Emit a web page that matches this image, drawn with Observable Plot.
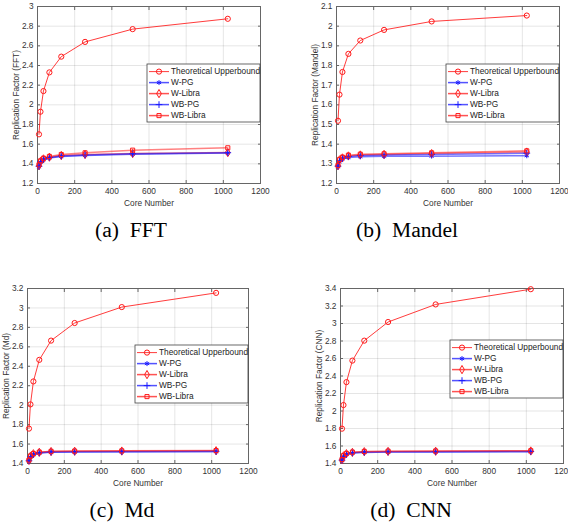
<!DOCTYPE html>
<html><head><meta charset="utf-8">
<script src="https://cdn.jsdelivr.net/npm/d3@7"></script>
<script src="https://cdn.jsdelivr.net/npm/@observablehq/plot@0.6"></script>
<style>
html,body{margin:0;padding:0;background:#fff;}
#root{position:relative;width:568px;height:527px;overflow:hidden;font-family:"Liberation Sans",Arial,sans-serif;}
.panel{position:absolute;}
.cap{position:absolute;font-family:"Liberation Serif","Times New Roman",serif;font-size:21.6px;line-height:21.6px;color:#000;white-space:pre;transform:translateX(-50%);}
</style></head><body><div id="root"></div>
<script>
// ---------- data ----------
const cores = [8, 16, 32, 64, 128, 256, 512, 1024];
const seriesNames = ["Theoretical Upperbound", "W-PG", "W-Libra", "WB-PG", "WB-Libra"];
const xTicks = [0, 200, 400, 600, 800, 1000, 1200];

const fftTheo    = [1.70, 1.93, 2.14, 2.33, 2.49, 2.64, 2.77, 2.875];
const fftWPG     = [1.370, 1.415, 1.442, 1.460, 1.475, 1.485, 1.497, 1.510];
const fftWLibra  = [1.380, 1.425, 1.450, 1.468, 1.485, 1.495, 1.505, 1.515];
const fftWBPG    = [1.375, 1.420, 1.447, 1.465, 1.480, 1.490, 1.502, 1.513];
const fftWBLibra = [1.390, 1.430, 1.457, 1.475, 1.495, 1.512, 1.539, 1.563];
const fftTicks   = [1.2, 1.4, 1.6, 1.8, 2, 2.2, 2.4, 2.6, 2.8, 3];

const mandelTheo    = [1.519, 1.652, 1.767, 1.859, 1.927, 1.981, 2.024, 2.054];
const mandelWPG     = [1.285, 1.310, 1.325, 1.332, 1.336, 1.338, 1.339, 1.341];
const mandelWLibra  = [1.290, 1.320, 1.330, 1.340, 1.345, 1.348, 1.352, 1.360];
const mandelWBPG    = [1.288, 1.315, 1.328, 1.337, 1.342, 1.345, 1.348, 1.354];
const mandelWBLibra = [1.292, 1.322, 1.334, 1.344, 1.349, 1.351, 1.356, 1.366];
const mandelTicks   = [1.2, 1.3, 1.4, 1.5, 1.6, 1.7, 1.8, 1.9, 2, 2.1];

const mdTheo    = [1.759, 2.008, 2.244, 2.466, 2.664, 2.845, 3.009, 3.155];
const mdWPG     = [1.425, 1.467, 1.492, 1.507, 1.515, 1.518, 1.520, 1.522];
const mdWLibra  = [1.432, 1.475, 1.500, 1.515, 1.523, 1.526, 1.528, 1.531];
const mdWBPG    = [1.428, 1.470, 1.495, 1.510, 1.518, 1.520, 1.522, 1.525];
const mdWBLibra = [1.435, 1.478, 1.502, 1.517, 1.525, 1.528, 1.530, 1.533];
const mdTicks   = [1.4, 1.6, 1.8, 2, 2.2, 2.4, 2.6, 2.8, 3, 3.2];

const cnnTheo    = [1.798, 2.068, 2.330, 2.576, 2.804, 3.017, 3.218, 3.392];
const cnnWPG     = [1.435, 1.478, 1.504, 1.519, 1.527, 1.530, 1.532, 1.534];
const cnnWLibra  = [1.442, 1.487, 1.512, 1.527, 1.535, 1.538, 1.540, 1.543];
const cnnWBPG    = [1.438, 1.482, 1.507, 1.522, 1.530, 1.533, 1.535, 1.537];
const cnnWBLibra = [1.445, 1.490, 1.515, 1.530, 1.538, 1.541, 1.543, 1.546];
const cnnTicks   = [1.4, 1.6, 1.8, 2, 2.2, 2.4, 2.6, 2.8, 3, 3.2, 3.4];

const captions = ["(a)\u2002FFT", "(b)\u2002Mandel", "(c)\u2002Md", "(d)\u2002CNN"];
const yLabels = ["Replication Factor (FFT)", "Replication Factor (Mandel)", "Replication Factor (Md)", "Replication Factor (CNN)"];

// ---------- styles ----------
const RED = "#ff1a1a", BLUE = "#1a1aff";
const styles = [
  {color: RED,  symbol: "circle",   d3sym: d3.symbolCircle,   width: 1.0, opacity: 0.85, r: 2.6},
  {color: BLUE, symbol: "asterisk", d3sym: d3.symbolAsterisk, width: 1.5, opacity: 0.6,  r: 2.3},
  {color: RED,  symbol: "diamond",  d3sym: d3.symbolDiamond,  width: 1.5, opacity: 0.55, r: 2.5},
  {color: BLUE, symbol: "plus",     d3sym: d3.symbolPlus,     width: 1.5, opacity: 0.6,  r: 2.3},
  {color: RED,  symbol: "square",   d3sym: d3.symbolSquare,   width: 1.5, opacity: 0.55, r: 2.3}
];

const panels = [
  {vals: [fftTheo, fftWPG, fftWLibra, fftWBPG, fftWBLibra], ticks: fftTicks, left: 0, top: 0, w: 284, h: 215, m: [6, 24, 32, 37], legTop: 58, capX: 131, capTop: 219.5},
  {vals: [mandelTheo, mandelWPG, mandelWLibra, mandelWBPG, mandelWBLibra], ticks: mandelTicks, left: 284, top: 0, w: 284, h: 215, m: [6, 9, 32, 52], legTop: 58, capX: 407, capTop: 219.5},
  {vals: [mdTheo, mdWPG, mdWLibra, mdWBPG, mdWBLibra], ticks: mdTicks, left: 0, top: 260, w: 284, h: 230, m: [28, 36, 27, 27], legTop: 57, capX: 122, capTop: 500},
  {vals: [cnnTheo, cnnWPG, cnnWLibra, cnnWBPG, cnnWBLibra], ticks: cnnTicks, left: 284, top: 260, w: 284, h: 230, m: [28, 5, 27, 56], legTop: 52, capX: 411, capTop: 500}
];

const fmt = d => String(Math.round(d * 100) / 100);
const root = document.getElementById("root");
const TEXT = "#333", AXIS = "#666";

panels.forEach((p, pi) => {
  const rows = seriesNames.map((s, i) => cores.map((c, j) => ({series: s, x: c, y: p.vals[i][j]})));
  const marks = [
    Plot.gridX(xTicks, {stroke: "#000", strokeOpacity: 0.1}),
    Plot.gridY(p.ticks, {stroke: "#000", strokeOpacity: 0.1}),
    Plot.axisX({ticks: xTicks, tickSize: -3, tickPadding: 8, tickFormat: fmt, stroke: AXIS, fill: TEXT,
      label: "Core Number", labelAnchor: "center", labelArrow: "none", labelOffset: 22}),
    Plot.axisY({ticks: p.ticks, tickSize: -3, tickPadding: 7, tickFormat: fmt, stroke: AXIS, fill: TEXT,
      label: yLabels[pi], labelAnchor: "center", labelArrow: "none", labelOffset: 24}),
    Plot.axisX({anchor: "top", ticks: xTicks, tickSize: -3, tickFormat: () => "", label: null, stroke: AXIS}),
    Plot.axisY({anchor: "right", ticks: p.ticks, tickSize: -3, tickFormat: () => "", label: null, stroke: AXIS}),
    Plot.frame({stroke: AXIS, strokeWidth: 1})
  ];
  rows.forEach((r, i) => {
    const st = styles[i];
    marks.push(Plot.line(r, {x: "x", y: "y", stroke: st.color, strokeWidth: st.width, strokeOpacity: st.opacity}));
  });
  rows.forEach((r, i) => {
    const st = styles[i];
    marks.push(Plot.dot(r, {x: "x", y: "y", symbol: st.symbol, stroke: st.color, fill: "none", r: st.r, strokeWidth: 1}));
  });
  const svg = Plot.plot({
    width: p.w, height: p.h,
    marginTop: p.m[0], marginRight: p.m[1], marginBottom: p.m[2], marginLeft: p.m[3],
    x: {domain: [0, 1200]},
    y: {domain: [p.ticks[0], p.ticks[p.ticks.length - 1]]},
    style: {fontSize: "8.3px", fontFamily: "'Liberation Sans', Arial, sans-serif", background: "transparent", color: TEXT, overflow: "visible"},
    marks
  });
  const wrap = document.createElement("div");
  wrap.className = "panel";
  wrap.style.left = p.left + "px";
  wrap.style.top = p.top + "px";
  wrap.appendChild(svg);
  root.appendChild(wrap);

  // legend (MATLAB-style box, inside the axes, right-aligned)
  const frameRight = p.w - p.m[1];
  const lw = 113, lh = 58;
  const g = d3.select(svg).append("g").attr("transform", `translate(${frameRight - lw},${p.m[0] + p.legTop})`)
    .attr("text-anchor", "start");
  g.append("rect").attr("width", lw).attr("height", lh).attr("fill", "#fff").attr("stroke", "#444").attr("stroke-width", 0.8);
  seriesNames.forEach((name, i) => {
    const st = styles[i];
    const yy = 7.6 + i * 11;
    g.append("line").attr("x1", 2).attr("x2", 22).attr("y1", yy).attr("y2", yy)
      .attr("stroke", st.color).attr("stroke-width", st.width).attr("stroke-opacity", i === 0 ? 0.85 : 0.75);
    g.append("path").attr("transform", `translate(12,${yy})`)
      .attr("d", d3.symbol(st.d3sym, st.r * st.r * Math.PI)())
      .attr("fill", "none").attr("stroke", st.color).attr("stroke-width", 1);
    g.append("text").attr("x", 24).attr("y", yy).attr("dy", "0.32em").attr("text-anchor", "start")
      .attr("font-size", "8.3px").attr("fill", "#222").text(name);
  });

  const cap = document.createElement("div");
  cap.className = "cap";
  cap.style.left = p.capX + "px";
  cap.style.top = p.capTop + "px";
  cap.textContent = captions[pi];
  root.appendChild(cap);
});
</script>
</body></html>
